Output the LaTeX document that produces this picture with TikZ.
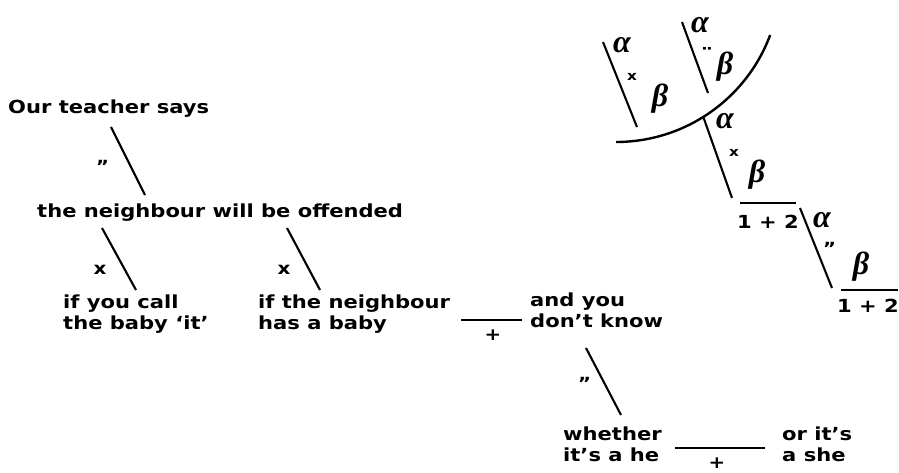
\documentclass[tikz,border=0pt]{standalone}
\usepackage{fontspec}
\setmainfont{DejaVu Sans}
\newfontfamily\widesans{DejaVu Sans}[FakeStretch=1.17]
\newfontfamily\greekserif{Liberation Serif}
\begin{document}
\begin{tikzpicture}[x=1pt,y=-1pt,
  txt/.style={font=\widesans\fontsize{18}{21}\selectfont\bfseries, inner sep=0pt, align=left},
  lbl/.style={font=\widesans\fontsize{17}{18}\selectfont\bfseries, inner sep=0pt},
  smlbl/.style={font=\widesans\fontsize{13}{13}\selectfont\bfseries, inner sep=0pt},
  greek/.style={font=\greekserif\fontsize{32}{34}\selectfont\bfseries\itshape, inner sep=0pt},
  link/.style={line width=2.1pt},
  frac/.style={line width=2.3pt}]
\useasboundingbox (0,0) rectangle (899,473);
% left tree
\node[txt, anchor=base west] (teacher) at (8,114) {Our teacher says};
\node[txt, anchor=base west] (neigh) at (37,217) {the neighbour will be offended};
\node[txt, anchor=north west] (call) at (63,295) {if you call\\the baby ‘it’};
\node[txt, anchor=north west] (baby) at (258,295) {if the neighbour\\has a baby};
\node[txt, anchor=north west] (know) at (530,293) {and you\\don’t know};
\node[txt, anchor=north west] (whether) at (563,427) {whether\\it’s a he};
\node[txt, anchor=north west] (she) at (782,427) {or it’s\\a she};

\coordinate (a1) at (111,127); \coordinate (b1) at (145,195);
\coordinate (a2) at (102,228); \coordinate (b2) at (136,290);
\coordinate (a3) at (287,228); \coordinate (b3) at (320,290);
\coordinate (a4) at (586,348); \coordinate (b4) at (621,415);
\draw[link] (a1) -- (b1);
\draw[link] (a2) -- (b2);
\draw[link] (a3) -- (b3);
\draw[link] (a4) -- (b4);
\node[lbl] (q1) at (103,163) {„};
\node[lbl] (x1) at (100,270) {x};
\node[lbl] (x2) at (284,270) {x};
\node[lbl] (q2) at (585,380) {„};

\coordinate (f1a) at (461,320); \coordinate (f1b) at (522,320);
\draw[frac] (f1a) -- (f1b);
\node[lbl] (p1) at (493,335) {+};
\coordinate (f2a) at (675,448); \coordinate (f2b) at (765,448);
\draw[frac] (f2a) -- (f2b);
\node[lbl] (p2) at (717,463) {+};

% top right
\coordinate (arcA) at (616,142);
\draw[line width=2.4pt] (arcA) arc[start angle=90, end angle=20.5, radius=164.6] coordinate (arcC);
\coordinate (j) at (703.5,117.5);
\coordinate (t1a) at (603,42); \coordinate (t1b) at (637,127);
\coordinate (t2a) at (682,22); \coordinate (t2b) at (708,93);
\coordinate (t3b) at (732,198);
\coordinate (t4a) at (800,208); \coordinate (t4b) at (832,288);
\draw[link] (t1a) -- (t1b);
\draw[link] (t2a) -- (t2b);
\draw[link] (j) -- (t3b);
\draw[link] (t4a) -- (t4b);
\node[greek] (al1) at (622,45) {α};
\node[smlbl] (x3) at (632,77) {x};
\node[greek] (be1) at (660,99) {β};
\node[greek] (al2) at (700,25) {α};
\node[font=\widesans\fontsize{22}{22}\selectfont\bfseries, inner sep=0pt] (q3) at (707,56) {¨};
\node[greek] (be2) at (725,67) {β};
\node[greek] (al3) at (725,121) {α};
\node[smlbl] (x4) at (734,153) {x};
\node[greek] (be3) at (757,175) {β};
\coordinate (f3a) at (740,203); \coordinate (f3b) at (796,203);
\draw[frac] (f3a) -- (f3b);
\node[txt] (n1) at (768,222) {1 + 2};
\node[greek] (al4) at (822,220) {α};
\node[lbl] (q4) at (830,245) {„};
\node[greek] (be4) at (861,267) {β};
\coordinate (f4a) at (841,290); \coordinate (f4b) at (898,290);
\draw[frac] (f4a) -- (f4b);
\node[txt] (n2) at (868,306) {1 + 2};
\end{tikzpicture}
\end{document}
